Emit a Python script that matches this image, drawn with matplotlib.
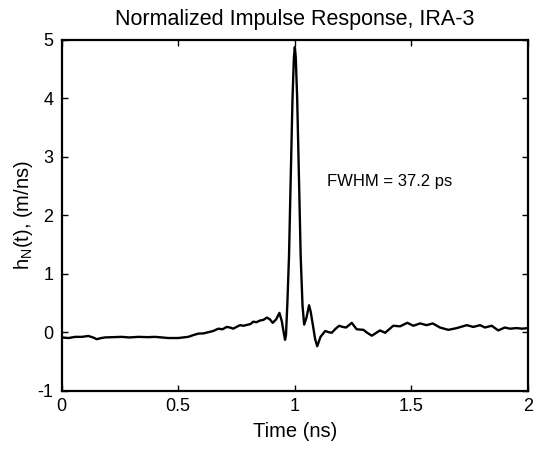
import matplotlib.pyplot as plt

plt.rcParams['font.family'] = ['Liberation Sans', 'DejaVu Sans']
plt.rcParams['mathtext.default'] = 'regular'
plt.rcParams['axes.unicode_minus'] = False

# time (ns) and normalized impulse response (m/ns)
time_ns = [0.0, 0.03, 0.058, 0.087, 0.115, 0.135, 0.151, 0.17, 0.186, 0.22, 0.258, 0.29,
           0.33, 0.37, 0.40, 0.43, 0.458, 0.50, 0.543, 0.565, 0.586, 0.61, 0.629, 0.65,
           0.672, 0.69, 0.708, 0.722, 0.736, 0.75, 0.765, 0.78, 0.80, 0.81, 0.822, 0.835,
           0.851, 0.865, 0.88, 0.893, 0.905, 0.92, 0.934, 0.944, 0.952, 0.958, 0.962,
           0.968, 0.975, 0.981, 0.99, 0.996, 1.0, 1.004, 1.01, 1.019, 1.025, 1.033,
           1.04, 1.05, 1.061, 1.068, 1.077, 1.087, 1.096, 1.11, 1.13, 1.145, 1.158,
           1.175, 1.19, 1.205, 1.22, 1.244, 1.265, 1.294, 1.31, 1.33, 1.365, 1.387,
           1.422, 1.451, 1.482, 1.508, 1.537, 1.565, 1.591, 1.622, 1.658, 1.694, 1.737,
           1.765, 1.794, 1.815, 1.844, 1.872, 1.90, 1.922, 1.951, 1.975, 2.0]
h_n = [-0.09, -0.10, -0.08, -0.08, -0.065, -0.09, -0.12, -0.10, -0.09, -0.085, -0.08, -0.09,
       -0.08, -0.085, -0.08, -0.09, -0.10, -0.10, -0.08, -0.05, -0.025, -0.02, 0.0, 0.02,
       0.06, 0.05, 0.09, 0.08, 0.06, 0.09, 0.12, 0.11, 0.13, 0.14, 0.18, 0.17,
       0.20, 0.21, 0.25, 0.22, 0.16, 0.22, 0.33, 0.19, 0.0, -0.13, -0.05,
       0.5, 1.3, 2.4, 4.0, 4.7, 4.88, 4.7, 4.0, 2.4, 1.3, 0.45,
       0.13, 0.25, 0.46, 0.35, 0.13, -0.12, -0.24, -0.08, 0.02, 0.0, -0.01,
       0.06, 0.11, 0.09, 0.08, 0.16, 0.05, 0.04, -0.01, -0.06, 0.03, -0.01,
       0.11, 0.10, 0.16, 0.11, 0.15, 0.12, 0.15, 0.08, 0.04, 0.07, 0.12,
       0.09, 0.12, 0.08, 0.11, 0.03, 0.08, 0.06, 0.07, 0.06, 0.07]

fig = plt.figure(figsize=(5.4, 4.49), dpi=100)
ax = fig.add_axes([0.114, 0.130, 0.864, 0.781])
ax.plot(time_ns, h_n, color='black', linewidth=1.7)

ax.set_xlim(0, 2)
ax.set_ylim(-1, 5)
ax.set_xticks([0, 0.5, 1, 1.5, 2])
ax.set_xticklabels(['0', '0.5', '1', '1.5', '2'])
ax.set_yticks([-1, 0, 1, 2, 3, 4, 5])
ax.tick_params(direction='in', length=4, width=1, top=True, right=True,
               labelsize=13)
ax.tick_params(axis='x', pad=5)
ax.tick_params(axis='y', pad=6)
for s in ax.spines.values():
    s.set_linewidth(1.6)

ax.set_title('Normalized Impulse Response, IRA-3', fontsize=15.5, pad=11)
ax.set_xlabel('Time (ns)', fontsize=14.5, labelpad=5)
ax.set_ylabel('h$_N$(t), (m/ns)', fontsize=14.5, labelpad=2)
ax.text(1.138, 2.5, 'FWHM = 37.2 ps', fontsize=12, va='baseline')

fig.savefig('out.png', dpi=100)
